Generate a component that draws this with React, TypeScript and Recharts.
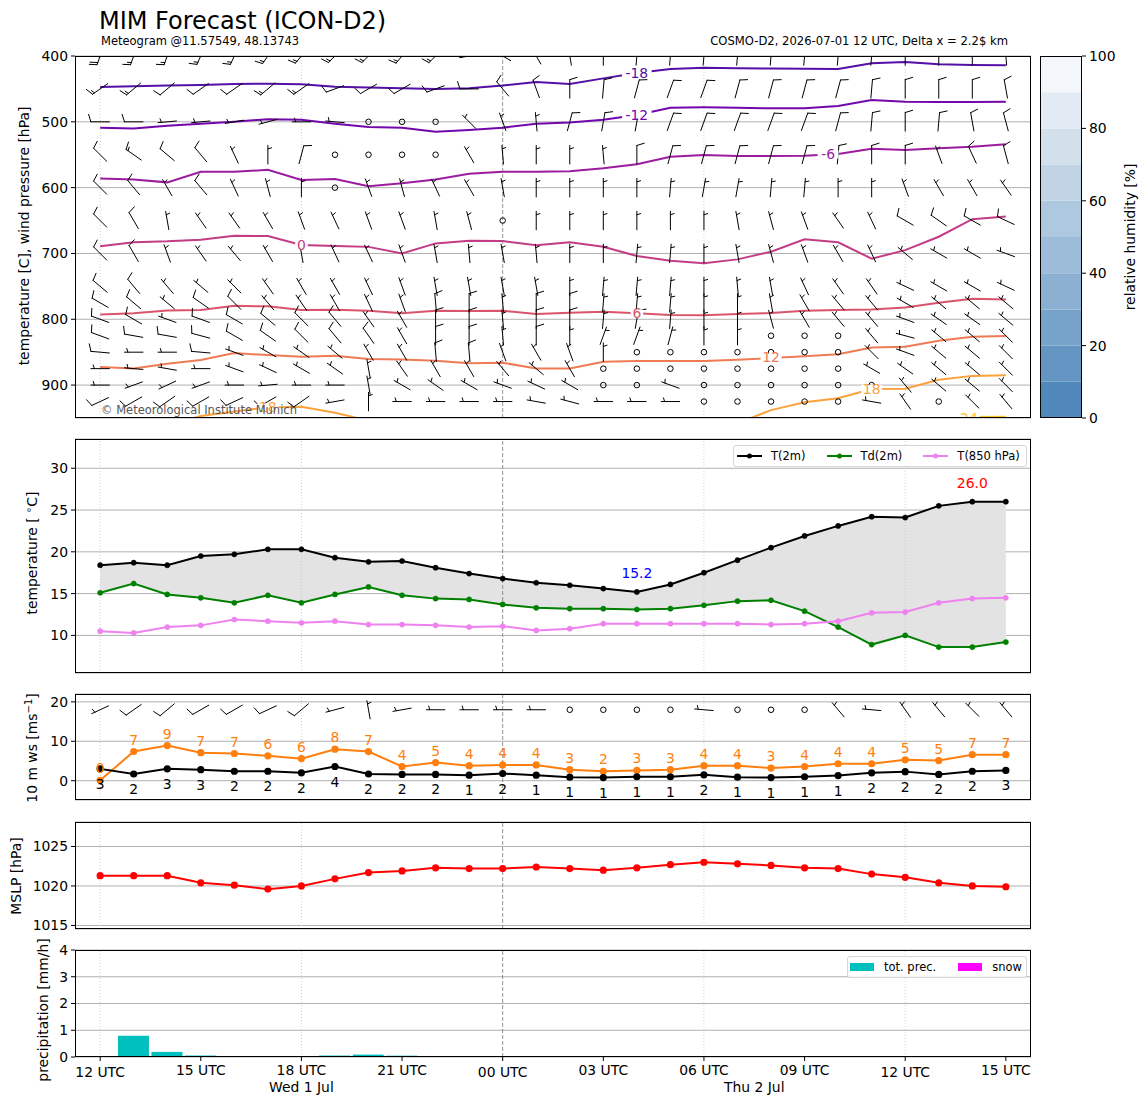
import React from "react";
import {
  ComposedChart,
  BarChart,
  Line,
  Area,
  Bar,
  Scatter,
  XAxis,
  YAxis,
  CartesianGrid,
  ReferenceLine,
} from "recharts";

const FONT = "DejaVu Sans, Verdana, sans-serif";
const FS = 13.9; // matplotlib 10 pt at 100 dpi

// forecast hours after 2026-07-01 12 UTC
const HOURS = [0, 1, 2, 3, 4, 5, 6, 7, 8, 9, 10, 11, 12, 13, 14, 15, 16, 17, 18, 19, 20, 21, 22, 23, 24, 25, 26, 27];
const TICKS = [0, 3, 6, 9, 12, 15, 18, 21, 24, 27];
const TICK_LABELS = ["12 UTC", "15 UTC", "18 UTC", "21 UTC", "00 UTC", "03 UTC", "06 UTC", "09 UTC", "12 UTC", "15 UTC"];
const MAJOR_TICKS = [0, 12, 24];
const DAY_LABELS = [
  { h: 6, text: "Wed 1 Jul" },
  { h: 19.5, text: "Thu 2 Jul" },
];
const DOTTED_HOURS = [0, 6, 18, 24];
const MIDNIGHT_HOURS = [12];

// 2 m values
const T2M = [18.4, 18.7, 18.4, 19.5, 19.7, 20.3, 20.3, 19.3, 18.8, 18.9, 18.1, 17.4, 16.8, 16.3, 16.0, 15.6, 15.2, 16.1, 17.5, 19.0, 20.5, 21.9, 23.1, 24.2, 24.1, 25.5, 26.0, 26.0];
const TD2M = [15.1, 16.2, 14.9, 14.5, 13.9, 14.8, 13.9, 14.9, 15.8, 14.8, 14.4, 14.3, 13.7, 13.3, 13.2, 13.2, 13.1, 13.2, 13.6, 14.1, 14.2, 12.9, 11.0, 8.9, 10.0, 8.6, 8.6, 9.2];
const T850 = [10.5, 10.3, 11.0, 11.2, 11.9, 11.7, 11.5, 11.7, 11.3, 11.3, 11.2, 11.0, 11.1, 10.6, 10.8, 11.4, 11.4, 11.4, 11.4, 11.4, 11.3, 11.4, 11.7, 12.7, 12.8, 13.9, 14.4, 14.5];

// 10 m wind [m/s]
const WS10 = [3.0, 1.7, 3.0, 2.8, 2.4, 2.4, 2.0, 3.6, 1.7, 1.6, 1.6, 1.4, 1.8, 1.4, 0.9, 0.8, 1.0, 1.0, 1.5, 0.9, 0.8, 1.0, 1.3, 2.0, 2.3, 1.6, 2.4, 2.6];
const GUST10 = [0.1, 7.4, 8.9, 7.1, 6.9, 6.3, 5.6, 8.0, 7.4, 3.6, 4.6, 3.8, 4.0, 4.0, 2.8, 2.4, 2.6, 2.8, 3.8, 3.8, 3.2, 3.6, 4.3, 4.3, 5.3, 5.1, 6.6, 6.6];
const WIND10_DIR = [245, 235, 230, 240, 240, 245, 230, 255, 350, 260, 270, 270, 270, 270, 0, 0, 0, 0, 275, 0, 0, 0, 320, 275, 325, 320, 315, 320];
const WIND10_KT = [5, 10, 10, 10, 10, 10, 10, 5, 5, 5, 5, 5, 5, 5, 0, 0, 0, 0, 5, 0, 0, 0, 5, 5, 5, 5, 5, 5];
const WIND10_BARB_Y = 18;

const MSLP = [1021.3, 1021.3, 1021.3, 1020.4, 1020.1, 1019.6, 1020.0, 1020.9, 1021.7, 1021.9, 1022.3, 1022.2, 1022.2, 1022.4, 1022.2, 1022.0, 1022.3, 1022.7, 1023.0, 1022.8, 1022.6, 1022.3, 1022.2, 1021.5, 1021.1, 1020.4, 1020.0, 1019.9];

const PRECIP = [0, 0.79, 0.19, 0.055, 0, 0, 0, 0.055, 0.09, 0.05, 0, 0, 0, 0, 0, 0, 0, 0, 0, 0, 0, 0, 0, 0, 0, 0, 0, 0];
const SNOW = [0, 0, 0, 0, 0, 0, 0, 0, 0, 0, 0, 0, 0, 0, 0, 0, 0, 0, 0, 0, 0, 0, 0, 0, 0, 0, 0, 0];

// isotherms: pressure [hPa] of each level per hour
const CONTOUR_LEVELS = [-18, -12, -6, 0, 6, 12, 18, 24];
const CONTOUR_COLORS = ["#540fa6", "#7208ac", "#9c1c9f", "#c23c86", "#d9546c", "#ef7b55", "#fba23c", "#fcc52b"];
const C_M18 = [447, 446, 445, 444, 442.5, 442, 443, 446.6, 448, 449, 450, 449, 445, 439.5, 442.5, 434, 426, 419.8, 418, 418.5, 419, 419.5, 419.8, 411, 409, 412.6, 413.7, 414];
const C_M12 = [509, 510, 506, 503, 500, 496, 497, 503, 508, 509, 515, 512.5, 509, 503, 501, 497, 489.7, 478.5, 478, 478.5, 479.5, 479.5, 476, 467, 469.5, 470, 470, 469.5];
const C_M6 = [586, 587.5, 592, 576, 576, 573, 588.5, 587, 598, 593.5, 587.5, 579, 576, 576, 575, 570.7, 564.6, 553, 550.5, 552, 552, 551.5, 549, 541, 543, 540, 538, 534];
const C_0 = [689, 683, 681.6, 679, 673, 673.5, 687, 688.7, 690, 700, 684.7, 680.7, 681, 687.7, 683, 689.8, 704, 711, 715, 709, 697.4, 678.6, 683, 708, 695, 674.6, 648, 644];
const C_6 = [792.6, 791, 786.5, 786, 779.5, 780.4, 786, 785.5, 787, 791, 787, 787.5, 787, 792, 790, 788.5, 791, 793.6, 794, 792, 790.6, 787, 786, 785, 782, 775, 769, 769.8];
const C_12 = [872.6, 874.7, 867.6, 862, 851.4, 854.4, 857, 855.4, 860.5, 861, 863, 867, 866, 874.7, 874.7, 864.6, 863.5, 863.5, 863.5, 861.5, 859, 856, 853, 843, 841.7, 832.6, 826.5, 825.5];
const C_18 = [null, null, 962, 947, 940, 934, 933, 942, 954, null, null, null, null, null, null, null, null, null, null, 958, 938, 926, 920, 906, 905.6, 892, 886, 885];
const C_24 = [null, null, null, null, null, null, null, null, null, null, null, null, null, null, null, null, null, null, null, null, null, null, null, null, null, 965, 948.5, 948];

const CONTOUR_LABELS = [
  { h: 16, p: 426, level: -18 },
  { h: 16, p: 489, level: -12 },
  { h: 21.7, p: 549.5, level: -6 },
  { h: 6, p: 687, level: 0 },
  { h: 16, p: 791, level: 6 },
  { h: 20, p: 858, level: 12 },
  { h: 5, p: 934, level: 18 },
  { h: 23, p: 906, level: 18 },
  { h: 25.9, p: 950, level: 24 },
];

// wind barbs on pressure levels: direction [deg from], speed [kt]
const BARB_LEVELS = [400, 450, 500, 550, 600, 650, 700, 750, 775, 800, 825, 850, 875, 900, 925];
const BARB_DIR = [
  [200, 200, 200, 205, 205, 215, 220, 225, 225, 220, 225, 260, 300, 330, 350, 0, 5, 5, 5, 5, 5, 5, 5, 5, 0, 0, 0, 355],
  [235, 230, 230, 235, 235, 230, 235, 250, 240, 240, 250, 270, 320, 340, 0, 5, 15, 20, 20, 15, 15, 15, 15, 5, 0, 0, 0, 350],
  [270, 270, 265, 265, 260, 255, 270, 275, 0, 0, 0, 315, 340, 355, 15, 10, 10, 20, 20, 20, 20, 20, 15, 5, 0, 5, 350, 345],
  [315, 305, 310, 320, 335, 0, 15, 0, 0, 0, 0, 330, 355, 0, 0, 355, 0, 15, 15, 15, 15, 15, 5, 0, 0, 340, 335, 345],
  [315, 320, 330, 320, 335, 345, 0, 0, 340, 345, 335, 330, 350, 0, 0, 0, 0, 5, 10, 10, 5, 5, 0, 0, 340, 330, 330, 325],
  [315, 330, 350, 325, 325, 330, 340, 335, 340, 340, 350, 345, 0, 0, 0, 0, 0, 0, 0, 350, 345, 340, 325, 335, 300, 305, 300, 295],
  [315, 330, 340, 325, 320, 330, 350, 335, 335, 340, 350, 355, 350, 355, 0, 0, 5, 5, 0, 350, 345, 340, 330, 335, 310, 300, 300, 290],
  [310, 320, 320, 310, 315, 325, 330, 330, 335, 340, 350, 350, 350, 350, 0, 5, 5, 5, 0, 355, 350, 335, 325, 325, 295, 300, 300, 295],
  [300, 310, 310, 305, 315, 320, 325, 330, 335, 340, 355, 0, 355, 0, 0, 5, 5, 5, 0, 0, 350, 330, 320, 320, 300, 310, 310, 310],
  [290, 300, 290, 290, 300, 310, 315, 320, 325, 330, 0, 0, 355, 0, 0, 5, 10, 5, 0, 0, 345, 330, 320, 320, 290, 305, 305, 310],
  [290, 280, 280, 285, 300, 305, 315, 320, 325, 330, 0, 0, 355, 0, 0, 20, 20, 15, 0, 0, 0, 0, 0, 320, 285, 310, 310, 315],
  [275, 270, 270, 275, 290, 300, 305, 310, 330, 330, 355, 355, 340, 330, 340, 0, 0, 0, 0, 0, 0, 0, 0, 315, 290, 310, 310, 315],
  [270, 275, 280, 270, 290, 295, 300, 305, 350, 325, 330, 330, 320, 310, 330, 0, 0, 0, 0, 0, 0, 0, 0, 300, 305, 310, 310, 315],
  [270, 250, 245, 250, 270, 265, 270, 270, 350, 300, 305, 300, 290, 295, 300, 0, 0, 290, 0, 0, 0, 0, 0, 0, 320, 310, 310, 315],
  [245, 240, 235, 240, 245, 240, 235, 260, 0, 270, 270, 270, 270, 280, 285, 270, 270, 270, 0, 0, 0, 0, 0, 280, 325, 0, 315, 320],
];
const BARB_KT = [
  [20, 15, 15, 15, 15, 15, 15, 15, 15, 15, 15, 10, 10, 10, 10, 10, 10, 10, 10, 10, 10, 10, 10, 10, 10, 10, 10, 10],
  [15, 15, 10, 10, 10, 15, 15, 10, 10, 10, 10, 10, 10, 10, 10, 10, 10, 10, 10, 10, 10, 10, 10, 10, 10, 10, 10, 10],
  [10, 10, 5, 5, 5, 5, 5, 5, 0, 0, 0, 5, 5, 5, 10, 10, 10, 10, 10, 10, 10, 10, 10, 10, 10, 10, 10, 10],
  [10, 15, 10, 10, 5, 5, 10, 0, 0, 0, 0, 5, 5, 5, 5, 5, 10, 10, 10, 10, 10, 10, 10, 10, 10, 5, 10, 10],
  [10, 10, 5, 10, 5, 5, 5, 0, 5, 5, 5, 5, 5, 5, 5, 5, 5, 5, 5, 5, 5, 5, 5, 5, 5, 5, 5, 5],
  [10, 10, 5, 5, 5, 5, 5, 5, 5, 5, 5, 5, 0, 5, 5, 5, 5, 5, 5, 5, 5, 5, 5, 5, 10, 10, 10, 10],
  [10, 10, 5, 5, 5, 5, 5, 5, 5, 5, 5, 5, 5, 5, 5, 5, 5, 5, 5, 5, 5, 5, 5, 5, 5, 5, 5, 5],
  [10, 10, 5, 5, 5, 5, 5, 5, 5, 5, 5, 5, 5, 5, 5, 5, 5, 5, 5, 5, 5, 5, 5, 5, 5, 5, 5, 5],
  [10, 10, 5, 10, 10, 5, 5, 5, 5, 5, 10, 10, 5, 10, 10, 5, 5, 5, 5, 5, 5, 5, 5, 5, 5, 5, 5, 5],
  [10, 10, 5, 10, 10, 10, 10, 10, 5, 5, 10, 10, 5, 10, 10, 5, 10, 5, 5, 5, 5, 5, 5, 5, 5, 5, 5, 5],
  [10, 10, 10, 10, 10, 10, 10, 10, 10, 5, 10, 10, 5, 10, 5, 5, 5, 5, 5, 5, 0, 0, 0, 5, 5, 5, 5, 5],
  [10, 5, 5, 10, 5, 5, 5, 5, 5, 5, 10, 10, 5, 5, 5, 5, 0, 0, 0, 0, 0, 0, 0, 5, 5, 5, 5, 5],
  [5, 5, 5, 5, 5, 5, 5, 5, 5, 5, 5, 5, 5, 5, 5, 0, 0, 0, 0, 0, 0, 0, 0, 5, 5, 5, 5, 5],
  [5, 5, 5, 5, 5, 5, 5, 5, 5, 5, 5, 5, 5, 5, 5, 0, 0, 5, 0, 0, 0, 0, 0, 0, 5, 5, 5, 5],
  [10, 10, 10, 10, 10, 10, 10, 5, 5, 5, 5, 5, 5, 5, 5, 5, 5, 5, 0, 0, 0, 0, 0, 5, 5, 0, 5, 5],
];

// relative humidity colour bar
const RH_BANDS = [10, 10, 10, 10, 10, 10, 10, 10, 10, 10];
const RH_COLORS = ["#5088bb", "#6596c3", "#77a3ca", "#8bb0d2", "#9dbcd9", "#adc8df", "#c0d4e6", "#d2e0ec", "#e2eaf3", "#f3f7fb"];
const RH_TICKS = [0, 20, 40, 60, 80, 100];

const TEMP_SERIES = [
  { key: "t", name: "T(2m)", color: "#000000" },
  { key: "td", name: "Td(2m)", color: "#008000" },
  { key: "t850", name: "T(850 hPa)", color: "#ee82ee" },
];
const PREC_SERIES = [
  { key: "tot", name: "tot. prec.", color: "#00bfbf" },
  { key: "snow", name: "snow", color: "#ff00ff" },
];

// ---- layout ----
const PAGE_W = 1148;
const PAGE_H = 1105;
const PLOT_L = 75;
const PLOT_R = 1031;
const Y_AXIS_W = 40;
const M_TOP = 10;
const MARGIN = { top: M_TOP, right: PAGE_W - PLOT_R, left: PLOT_L - Y_AXIS_W, bottom: 0 };
const X_DOMAIN: [number, number] = [-0.75, 27.75];
const PANELS = {
  air: [56, 418],
  temp: [439, 673],
  wind: [694, 800],
  mslp: [822, 929],
  prec: [950, 1057],
};
const CBAR = { x0: 1040, x1: 1082, y0: 56, y1: 418 };
const TICK_STYLE = { fill: "#000", fontSize: FS, fontFamily: FONT };

const hourX = (h: number) => PLOT_L + ((h - X_DOMAIN[0]) / (X_DOMAIN[1] - X_DOMAIN[0])) * (PLOT_R - PLOT_L);

// ---- derived tables ----
const CONTOUR_SERIES = [C_M18, C_M12, C_M6, C_0, C_6, C_12, C_18, C_24];
const contourRows = HOURS.map((h, i) => {
  const row: any = { h };
  CONTOUR_SERIES.forEach((s, k) => (row[`c${k}`] = s[i]));
  return row;
});

const barbPoints = BARB_LEVELS.flatMap((p, r) =>
  HOURS.map((h, i) => ({ h, p, dir: BARB_DIR[r][i], kt: BARB_KT[r][i] }))
);
const tempRows = HOURS.map((h, i) => ({ h, t: T2M[i], td: TD2M[i], t850: T850[i] }));
const tMinI = T2M.indexOf(Math.min(...T2M));
const tMaxI = T2M.indexOf(Math.max(...T2M));
const tempNotes = [
  { h: HOURS[tMinI], v: T2M[tMinI], color: "#0000ff" },
  { h: HOURS[tMaxI], v: T2M[tMaxI], color: "#ff0000" },
];
const windRows = HOURS.map((h, i) => ({ h, ws: WS10[i], gust: GUST10[i] }));
const wind10Barbs = HOURS.map((h, i) => ({ h, y: WIND10_BARB_Y, dir: WIND10_DIR[i], kt: WIND10_KT[i] }));
const mslpRows = HOURS.map((h, i) => ({ h, p: MSLP[i] }));
const precRows = HOURS.map((h, i) => ({ h, tot: PRECIP[i], snow: SNOW[i] }));
const rhRow = [RH_BANDS.reduce((o, v, i) => ({ ...o, [`b${i}`]: v }), { name: "rh" } as any)];

// ---- wind barb glyph (matplotlib style, pivot in the middle) ----
const BARB_L = 18.5;
function Barb({ cx, cy, dir, kt }: { cx: number; cy: number; dir: number; kt: number }) {
  if (cx == null || cy == null) return null;
  if (kt < 2.5) {
    return <circle cx={cx} cy={cy} r={BARB_L * 0.15} fill="none" stroke="#000" strokeWidth={1} />;
  }
  const t = (dir * Math.PI) / 180;
  const ux = Math.sin(t);
  const uy = -Math.cos(t);
  const fx = Math.cos(t);
  const fy = Math.sin(t);
  const L = BARB_L;
  const H = 0.4 * L;
  const Wd = 0.25 * L;
  const S = 0.125 * L;
  const bx = cx - (ux * L) / 2;
  const by = cy - (uy * L) / 2;
  const at = (o: number) => [bx + ux * o, by + uy * o];
  const full = Math.floor(kt / 10);
  const half = kt % 10 >= 5;
  let off = L;
  const [ex, ey] = at(L);
  let d = `M${bx},${by}L${ex},${ey}`;
  for (let i = 0; i < full; i++) {
    const [rx, ry] = at(off);
    d += `M${rx},${ry}L${rx + fx * H + (ux * Wd) / 2},${ry + fy * H + (uy * Wd) / 2}`;
    off -= S;
  }
  if (half) {
    if (off === L) off -= 1.5 * S;
    const [rx, ry] = at(off);
    d += `M${rx},${ry}L${rx + (fx * H) / 2 + (ux * Wd) / 4},${ry + (fy * H) / 2 + (uy * Wd) / 4}`;
  }
  return <path d={d} stroke="#000" strokeWidth={1} fill="none" strokeLinecap="round" />;
}
const renderBarb = (p: any) => <Barb cx={p.cx} cy={p.cy} dir={p.payload.dir} kt={p.payload.kt} />;

const renderContourLabel = (p: any) => {
  const lvl = p.payload.level;
  const color = CONTOUR_COLORS[CONTOUR_LEVELS.indexOf(lvl)];
  const text = String(lvl);
  const w = text.length * 8.5 + 4;
  return (
    <g>
      <rect x={p.cx - w / 2} y={p.cy - 4} width={w} height={8} fill="#fff" />
      <text x={p.cx} y={p.cy} textAnchor="middle" dominantBaseline="central" fill={color} fontSize={FS} fontFamily={FONT}>
        {text}
      </text>
    </g>
  );
};

const renderTimeTick = (p: any) => {
  const v = p.payload.value;
  const major = MAJOR_TICKS.includes(v);
  return (
    <text x={p.x} y={p.y + (major ? 16 : 13.5)} textAnchor="middle" fill="#000" fontSize={FS} fontFamily={FONT}>
      {TICK_LABELS[TICKS.indexOf(v)]}
    </text>
  );
};

function timeAxis(labels: boolean) {
  return (
    <XAxis
      dataKey="h"
      type="number"
      domain={X_DOMAIN}
      ticks={TICKS}
      interval={0}
      allowDataOverflow
      axisLine={false}
      tickLine={{ stroke: "#000" }}
      tickSize={4}
      tickMargin={0}
      height={labels ? 40 : 8}
      tick={labels ? renderTimeTick : false}
    />
  );
}

function timeLines() {
  return [
    ...DOTTED_HOURS.map((h) => (
      <ReferenceLine key={`d${h}`} x={h} stroke="#c8c8c8" strokeWidth={0.8} strokeDasharray="1 2" />
    )),
    ...MIDNIGHT_HOURS.map((h) => (
      <ReferenceLine key={`m${h}`} x={h} stroke="#7a7a7a" strokeWidth={0.8} strokeDasharray="4 2" />
    )),
  ];
}

function yAxis(domain: [number, number], ticks: number[], extra: any = {}) {
  return (
    <YAxis
      type="number"
      domain={domain}
      ticks={ticks}
      interval={0}
      allowDataOverflow
      width={Y_AXIS_W}
      axisLine={false}
      tickLine={{ stroke: "#000" }}
      tickSize={4}
      tickMargin={3}
      tick={TICK_STYLE}
      {...extra}
    />
  );
}

const Place = ({ top, children }: { top: number; children: React.ReactNode }) => (
  <div style={{ position: "absolute", left: 0, top: top - M_TOP }}>{children}</div>
);

function LegendBox({ left, top, width, items, line }: any) {
  return (
    <div
      style={{
        position: "absolute",
        left,
        top,
        width,
        height: 22,
        boxSizing: "border-box",
        border: "1px solid #d6d6d6",
        borderRadius: 3,
        background: "rgba(255,255,255,0.85)",
        display: "flex",
        alignItems: "center",
        paddingLeft: line ? 3 : 2,
        fontFamily: FONT,
        fontSize: 11.5,
        color: "#000",
      }}
    >
      {items.map((it: any, i: number) => (
        <div key={it.key} style={{ display: "flex", alignItems: "center", marginLeft: i === 0 ? 0 : line ? 21 : 22 }}>
          <svg width={25} height={10} style={{ display: "block" }}>
            {line ? (
              <>
                <line x1={0} y1={5} x2={25} y2={5} stroke={it.color} strokeWidth={2} />
                <circle cx={12.5} cy={5} r={2.5} fill={it.color} />
              </>
            ) : (
              <rect x={0} y={1} width={24} height={8} fill={it.color} />
            )}
          </svg>
          <span style={{ marginLeft: 9, whiteSpace: "nowrap" }}>{it.name}</span>
        </div>
      ))}
    </div>
  );
}

const App = () => {
  const ph = (k: keyof typeof PANELS) => PANELS[k][1] - PANELS[k][0];
  return (
    <div style={{ position: "absolute", left: 0, top: 0, width: PAGE_W, height: PAGE_H, overflow: "hidden", background: "#fff", fontFamily: FONT }}>
      {/* upper air: isotherms and wind barbs */}
      <Place top={PANELS.air[0]}>
        <ComposedChart width={PAGE_W} height={M_TOP + ph("air") + 8} margin={MARGIN} data={contourRows}>
          <CartesianGrid vertical={false} stroke="#b0b0b0" />
          {timeLines()}
          {timeAxis(false)}
          {yAxis([400, 950], [400, 500, 600, 700, 800, 900], { reversed: true })}
          <Scatter data={barbPoints} dataKey="p" shape={renderBarb} isAnimationActive={false} />
          {CONTOUR_SERIES.map((_, i) => (
            <Line
              key={`c${i}`}
              dataKey={`c${i}`}
              stroke={CONTOUR_COLORS[i]}
              strokeWidth={2}
              dot={false}
              activeDot={false}
              connectNulls={false}
              isAnimationActive={false}
            />
          ))}
          <Scatter data={CONTOUR_LABELS} dataKey="p" shape={renderContourLabel} isAnimationActive={false} />
        </ComposedChart>
      </Place>

      {/* relative humidity colour bar */}
      <div style={{ position: "absolute", left: CBAR.x0, top: CBAR.y0 - 8 }}>
        <BarChart
          width={CBAR.x1 - CBAR.x0 + 45}
          height={CBAR.y1 - CBAR.y0 + 16}
          data={rhRow}
          margin={{ top: 8, bottom: 8, left: 0, right: 0 }}
          barCategoryGap={0}
        >
          <XAxis dataKey="name" hide />
          <YAxis
            orientation="right"
            type="number"
            domain={[0, 100]}
            ticks={RH_TICKS}
            interval={0}
            width={45}
            axisLine={false}
            tickLine={{ stroke: "#000" }}
            tickSize={4}
            tickMargin={3}
            tick={TICK_STYLE}
          />
          {RH_BANDS.map((_, i) => (
            <Bar key={i} dataKey={`b${i}`} stackId="rh" fill={RH_COLORS[i]} isAnimationActive={false} />
          ))}
        </BarChart>
      </div>

      {/* 2 m temperature */}
      <Place top={PANELS.temp[0]}>
        <ComposedChart width={PAGE_W} height={M_TOP + ph("temp") + 8} margin={MARGIN} data={tempRows}>
          <CartesianGrid vertical={false} stroke="#b0b0b0" />
          {timeLines()}
          {timeAxis(false)}
          {yAxis([5.5, 33.5], [10, 15, 20, 25, 30])}
          <Area
            dataKey={(d: any) => [d.td, d.t]}
            stroke="none"
            fill="#e3e3e3"
            fillOpacity={1}
            dot={false}
            activeDot={false}
            isAnimationActive={false}
          />
          {TEMP_SERIES.map((s) => (
            <Line
              key={s.key}
              dataKey={s.key}
              stroke={s.color}
              strokeWidth={2}
              dot={{ r: 2.6, fill: s.color, stroke: s.color, strokeWidth: 0.5 }}
              activeDot={false}
              isAnimationActive={false}
            />
          ))}
          <Scatter
            data={tempNotes}
            dataKey="v"
            isAnimationActive={false}
            shape={(p: any) => (
              <text x={p.cx} y={p.cy - 19} textAnchor="middle" dominantBaseline="central" fill={p.payload.color} fontSize={FS} fontFamily={FONT}>
                {p.payload.v.toFixed(1)}
              </text>
            )}
          />
        </ComposedChart>
      </Place>
      <LegendBox left={733} top={445} width={294} items={TEMP_SERIES} line />

      {/* 10 m wind */}
      <Place top={PANELS.wind[0]}>
        <ComposedChart width={PAGE_W} height={M_TOP + ph("wind") + 8} margin={MARGIN} data={windRows}>
          <CartesianGrid vertical={false} stroke="#b0b0b0" />
          {timeLines()}
          {timeAxis(false)}
          {yAxis([-4.9, 22], [0, 10, 20])}
          <Scatter data={wind10Barbs} dataKey="y" shape={renderBarb} isAnimationActive={false} />
          <Line dataKey="gust" stroke="#ff7f0e" strokeWidth={2} dot={{ r: 2.6, fill: "#ff7f0e", stroke: "#ff7f0e" }} activeDot={false} isAnimationActive={false} />
          <Line dataKey="ws" stroke="#000" strokeWidth={2} dot={{ r: 2.6, fill: "#000", stroke: "#000" }} activeDot={false} isAnimationActive={false} />
          <Scatter
            dataKey="gust"
            isAnimationActive={false}
            shape={(p: any) => (
              <text x={p.cx} y={p.cy - 12} textAnchor="middle" dominantBaseline="central" fill="#ff7f0e" fontSize={FS} fontFamily={FONT}>
                {Math.round(p.payload.gust)}
              </text>
            )}
          />
          <Scatter
            dataKey="ws"
            isAnimationActive={false}
            shape={(p: any) => (
              <text x={p.cx} y={p.cy + 15} textAnchor="middle" dominantBaseline="central" fill="#000" fontSize={FS} fontFamily={FONT}>
                {Math.round(p.payload.ws)}
              </text>
            )}
          />
        </ComposedChart>
      </Place>

      {/* mean sea level pressure */}
      <Place top={PANELS.mslp[0]}>
        <ComposedChart width={PAGE_W} height={M_TOP + ph("mslp") + 8} margin={MARGIN} data={mslpRows}>
          <CartesianGrid vertical={false} stroke="#b0b0b0" />
          {timeLines()}
          {timeAxis(false)}
          {yAxis([1014.55, 1028.1], [1015, 1020, 1025])}
          <Line dataKey="p" stroke="#ff0000" strokeWidth={2} dot={{ r: 2.6, fill: "#ff0000", stroke: "#ff0000" }} activeDot={false} isAnimationActive={false} />
        </ComposedChart>
      </Place>

      {/* precipitation */}
      <Place top={PANELS.prec[0]}>
        <ComposedChart width={PAGE_W} height={M_TOP + ph("prec") + 40} margin={MARGIN} data={precRows}>
          <CartesianGrid vertical={false} stroke="#b0b0b0" />
          {timeLines()}
          {timeAxis(true)}
          {yAxis([0, 4], [0, 1, 2, 3, 4])}
          {PREC_SERIES.map((s) => (
            <Bar key={s.key} dataKey={s.key} stackId="pr" fill={s.color} barSize={31} isAnimationActive={false} />
          ))}
        </ComposedChart>
      </Place>
      <LegendBox left={847} top={956} width={180} items={PREC_SERIES} />

      {/* frames and free text */}
      <svg width={PAGE_W} height={PAGE_H} style={{ position: "absolute", left: 0, top: 0, pointerEvents: "none" }}>
        {Object.values(PANELS).map(([y0, y1], i) => (
          <rect key={i} x={PLOT_L + 0.5} y={y0 + 0.5} width={PLOT_R - PLOT_L - 1} height={y1 - y0 - 1} fill="none" stroke="#000" strokeWidth={1} />
        ))}
        <rect x={CBAR.x0 + 0.5} y={CBAR.y0 + 0.5} width={CBAR.x1 - CBAR.x0 - 1} height={CBAR.y1 - CBAR.y0 - 1} fill="none" stroke="#000" strokeWidth={1} />

        <text x={99} y={28.5} fontSize={24} fontFamily={FONT} fill="#000">MIM Forecast (ICON-D2)</text>
        <text x={101} y={45} fontSize={11.5} fontFamily={FONT} fill="#000">Meteogram @11.57549, 48.13743</text>
        <text x={1008} y={45} fontSize={11.6} fontFamily={FONT} fill="#000" textAnchor="end">
          COSMO-D2, 2026-07-01 12 UTC, Delta x = 2.2$ km
        </text>
        <text x={101} y={414} fontSize={11.5} fontFamily={FONT} fill="#555">© Meteorological Institute Munich</text>

        <text transform="translate(29,236) rotate(-90)" textAnchor="middle" fontSize={FS} fontFamily={FONT} fill="#000">
          temperature [C], wind pressure [hPa]
        </text>
        <text transform="translate(37,553) rotate(-90)" textAnchor="middle" fontSize={FS} fontFamily={FONT} fill="#000">
          temperature [ <tspan dy={-5} fontSize={10}>∘</tspan><tspan dy={5}>C]</tspan>
        </text>
        <text transform="translate(37,748) rotate(-90)" textAnchor="middle" fontSize={FS} fontFamily={FONT} fill="#000">
          10 m ws [ms<tspan dy={-5} fontSize={10}>−1</tspan><tspan dy={5}>]</tspan>
        </text>
        <text transform="translate(21,876) rotate(-90)" textAnchor="middle" fontSize={FS} fontFamily={FONT} fill="#000">
          MSLP [hPa]
        </text>
        <text transform="translate(48,1010) rotate(-90)" textAnchor="middle" fontSize={FS} fontFamily={FONT} fill="#000">
          precipitation [mm/h]
        </text>
        <text transform="translate(1135,237) rotate(-90)" textAnchor="middle" fontSize={FS} fontFamily={FONT} fill="#000">
          relative humidity [%]
        </text>

        {DAY_LABELS.map((d) => (
          <text key={d.text} x={hourX(d.h)} y={1092} textAnchor="middle" fontSize={FS} fontFamily={FONT} fill="#000">
            {d.text}
          </text>
        ))}
      </svg>
    </div>
  );
};

export default App;
